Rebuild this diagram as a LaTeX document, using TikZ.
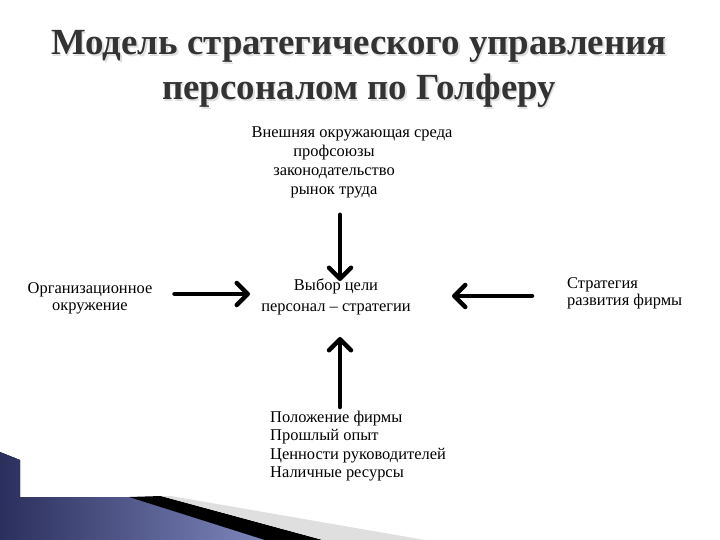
\documentclass[tikz,border=0pt]{standalone}
\usepackage{fontspec}
\setmainfont{Liberation Serif}
\usetikzlibrary{arrows.meta}
\definecolor{titlegrey}{HTML}{333333}
\definecolor{navydark}{HTML}{2A2F5C}
\definecolor{navylight}{HTML}{7E86BC}
\tikzstyle{heading} = [align=center, font=\bfseries\fontsize{37}{45}\selectfont, text=titlegrey]
\tikzstyle{factor} = [align=center, font=\fontsize{16.5}{19}\selectfont, inner sep=0pt]
\tikzstyle{factorleft} = [align=left, font=\fontsize{16.5}{18.3}\selectfont, inner sep=0pt]
\tikzstyle{arrow} = [line width=4.5bp, line cap=round, -{Straight Barb[length=11bp, width=22bp, round]}]

\begin{document}
\begin{tikzpicture}[x=1bp, y=-1bp]
\useasboundingbox (0,0) rectangle (720,540);

% slide corner
\fill[left color=navydark, right color=navylight, shading angle=90] (0,452) -- (20,460) -- (20,497) -- (129,497) -- (265,540) -- (0,540) -- cycle;
\fill[black] (129,497) -- (161,496) -- (323,540) -- (265,540) -- cycle;
\fill[gray!25] (161,496) -- (171,496) -- (425,540) -- (323,540) -- cycle;

\node (shadow) [heading, text=gray!25] at (360.5,70.5) {Модель стратегического управления\\персоналом по Голферу};
\node (title) [heading] at (359,69) {Модель стратегического управления\\персоналом по Голферу};

\node (goal) [factor, font=\fontsize{16.5}{21}\selectfont] at (336,297) {Выбор цели\\персонал – стратегии};
\node (env) [factor] at (334,162) {Внешняя окружающая среда\hspace*{-36bp}\\профсоюзы\\законодательство\\рынок труда};
\node (org) [factor, font=\fontsize{16.5}{17}\selectfont] at (90,298) {Организационное\\окружение};
\node (strat) [factorleft, font=\fontsize{16.5}{17}\selectfont, anchor=west] at (567,293) {Стратегия\\развития фирмы};
\node (firm) [factorleft, anchor=west] at (270,446) {Положение фирмы\\Прошлый опыт\\Ценности руководителей\\Наличные ресурсы};

\draw [arrow] (env.south -| 340,0) ++(0,17) -- (340,281);
\draw [arrow] (org.east) ++(22,-4) -- (250,294);
\draw [arrow] (strat.west) ++(-35,3) -- (452,296);
\draw [arrow] (firm.north -| 340,0) ++(0,-4) -- (340,337);

\end{tikzpicture}
\end{document}
